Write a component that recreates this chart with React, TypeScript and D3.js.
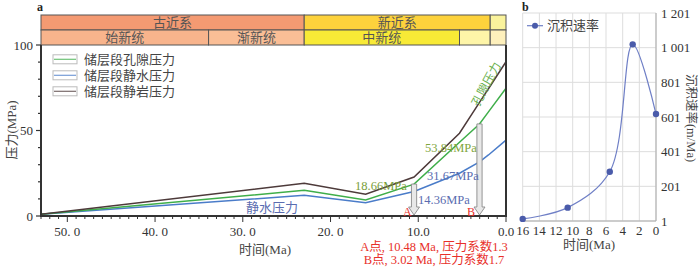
import React from "react";
import * as d3 from "d3";

// ---------- Panel a data ----------
const timesA = [53, 23, 16, 10.48, 5.3, 3.02, 2, 0];
const porePressure = [1, 15.0, 9.4, 18.66, 43.1, 53.84, 60.9, 74.7];
const hydroPressure = [1, 12.1, 7.8, 14.36, 25.0, 31.67, 35.7, 44.4];
const lithoPressure = [1, 19.1, 12.7, 22.8, 48.4, 66.4, 74.4, 90.2];
const legendA = ["储层段孔隙压力", "储层段静水压力", "储层段静岩压力"];
const xTicksA = [50, 40, 30, 20, 10, 0];
const xTickLabelsA = ["50. 0", "40. 0", "30. 0", "20. 0", "10.0", "0.0"];
const yTicksA = [0, 50, 100];
const periods = [
  { name: "古近系", start: 53, end: 23, color: "#F49A72" },
  { name: "新近系", start: 23, end: 1.8, color: "#FDD23C" },
  { name: "", start: 1.8, end: 0, color: "#FAF39C" },
];
const epochs = [
  { name: "始新统", start: 53, end: 33.9, color: "#F8B48C" },
  { name: "渐新统", start: 33.9, end: 23, color: "#FABE96" },
  { name: "中新统", start: 23, end: 5.3, color: "#F8EA36" },
  { name: "", start: 5.3, end: 1.8, color: "#FEF5A8" },
  { name: "", start: 1.8, end: 0, color: "#FEF0BC" },
];
const pointA = { t: 10.48, p: 18.66 };
const pointB = { t: 3.02, p: 53.84 };

// ---------- Panel b data ----------
const timesB = [16, 10.6, 5.55, 2.8, 0];
const sedRate = [13, 78, 285, 1020, 618];
const xTicksB = [16, 14, 12, 10, 8, 6, 4, 2, 0];
const yTicksB = [1, 201, 401, 601, 801, 1001, 1201];
const yTickLabelsB = ["1", "201", "401", "601", "801", "1 001", "1 201"];

const FONT = "'Liberation Serif', 'Noto Sans CJK SC', serif";

export default function App() {
  const x = d3.scaleLinear().domain([53, 0]).range([41, 506]);
  const y = d3.scaleLinear().domain([0, 100]).range([216, 45]);
  const lineA = (vals: number[]) =>
    d3
      .line<number>()
      .x((_, i) => x(timesA[i]))
      .y((d) => y(d))(vals) as string;

  const xb = d3.scaleLinear().domain([16, 0]).range([522.7, 656]);
  const yb = d3.scaleLinear().domain([1, 1201]).range([221, 13]);
  const lineB = d3
    .line<number>()
    .x((_, i) => xb(timesB[i]))
    .y((d) => yb(d))
    .curve(d3.curveCatmullRom.alpha(0.5))(sedRate) as string;

  const green = "#3FAE4A";
  const blue = "#4A7CC9";
  const brown = "#4D3A3A";
  const lineColors = [green, blue, brown];
  const axisCol = "#333";

  const arrow = (t: number, p: number) => {
    const cx = x(t);
    const top = y(p);
    const bot = 215;
    const hw = 2.6;
    const headW = 5.5;
    const headH = 8;
    const d = `M${cx - hw},${top} L${cx + hw},${top} L${cx + hw},${bot - headH} L${cx + headW},${bot - headH} L${cx},${bot} L${cx - headW},${bot - headH} L${cx - hw},${bot - headH} Z`;
    return <path d={d} fill="#E8E8E8" stroke="#8A8A8A" strokeWidth={0.9} />;
  };

  const minorX = d3.range(0, 54, 1);
  const minorY = d3.range(0, 101, 10);

  return (
    <svg
      width={700}
      height={274}
      style={{ position: "absolute", left: 0, top: 0, fontFamily: FONT }}
    >
      <rect width={700} height={274} fill="#fff" />
      {/* Panel labels */}
      <text x={37} y={11} fontSize={12} fontWeight="bold" fill="#222">a</text>
      <text x={522} y={11} fontSize={12} fontWeight="bold" fill="#222">b</text>

      {/* Header chronostratigraphy */}
      {periods.map((p, i) => (
        <g key={"p" + i}>
          <rect x={x(p.start)} y={15} width={x(p.end) - x(p.start)} height={15} fill={p.color} stroke="#555" strokeWidth={1} />
          {p.name && (
            <text x={(x(p.start) + x(p.end)) / 2} y={27} fontSize={13} textAnchor="middle" fill="#555">{p.name}</text>
          )}
        </g>
      ))}
      {epochs.map((p, i) => (
        <g key={"e" + i}>
          <rect x={x(p.start)} y={30} width={x(p.end) - x(p.start)} height={15} fill={p.color} stroke="#555" strokeWidth={1} />
          {p.name && (
            <text x={(x(p.start) + x(p.end)) / 2} y={42} fontSize={13} textAnchor="middle" fill="#555">{p.name}</text>
          )}
        </g>
      ))}

      {/* Lines panel a */}
      <path d={lineA(hydroPressure)} fill="none" stroke={blue} strokeWidth={1.5} />
      <path d={lineA(porePressure)} fill="none" stroke={green} strokeWidth={1.5} />
      <path d={lineA(lithoPressure)} fill="none" stroke={brown} strokeWidth={1.5} />

      {/* Arrows */}
      {arrow(pointA.t, pointA.p)}
      {arrow(pointB.t, pointB.p)}

      {/* Axes panel a */}
      <line x1={41} x2={41} y1={45} y2={216} stroke={axisCol} strokeWidth={2} />
      <line x1={506} x2={506} y1={45} y2={216} stroke={axisCol} strokeWidth={2} />
      <line x1={40} x2={507} y1={216} y2={216} stroke={axisCol} strokeWidth={2} />
      {minorY.map((v) => (
        <line key={"my" + v} x1={yTicksA.includes(v) ? 36 : 38} x2={41} y1={y(v)} y2={y(v)} stroke={axisCol} strokeWidth={1.2} />
      ))}
      {yTicksA.map((v) => (
        <text key={"yl" + v} x={33} y={y(v) + 4.5} fontSize={13} textAnchor="end" fill="#333">{v}</text>
      ))}
      {minorX.map((v) => (
        <line key={"mx" + v} x1={x(v)} x2={x(v)} y1={216} y2={xTicksA.includes(v) ? 222 : 219} stroke={axisCol} strokeWidth={1} />
      ))}
      {xTicksA.map((v, i) => (
        <text key={"xl" + v} x={x(v)} y={236} fontSize={13} textAnchor="middle" fill="#333">{xTickLabelsA[i]}</text>
      ))}
      <text x={265} y={254} fontSize={13} textAnchor="middle" fill="#444">时间(Ma)</text>
      <text transform="translate(16,130) rotate(-90)" fontSize={13} textAnchor="middle" fill="#444">压力(MPa)</text>

      {/* Legend panel a */}
      {legendA.map((s, i) => {
        const cy = 59.3 + i * 16;
        return (
          <g key={"lg" + i}>
            <rect x={53} y={cy - 4.5} width={24} height={9} fill="#fff" stroke="#BBB" strokeWidth={1} />
            <line x1={54} x2={76} y1={cy} y2={cy} stroke={lineColors[i]} strokeWidth={1.2} opacity={0.75} />
            <text x={84} y={cy + 4.5} fontSize={13} fill="#444">{s}</text>
          </g>
        );
      })}

      {/* Annotations panel a */}
      <text x={246} y={212} fontSize={13} fill="#5A6CB0">静水压力</text>
      <text x={355} y={190} fontSize={12.5} fill="#7A9E3A">{porePressure[3].toFixed(2)}MPa</text>
      <text x={425} y={152} fontSize={12.5} fill="#7FA640">{porePressure[5].toFixed(2)}MPa</text>
      <text x={427} y={180} fontSize={12.5} fill="#5A6CB0">{hydroPressure[5].toFixed(2)}MPa</text>
      <text x={418} y={203.5} fontSize={12.5} fill="#5A6CB0">{hydroPressure[3].toFixed(2)}MPa</text>
      <text transform="translate(490,86) rotate(-62)" fontSize={12} textAnchor="middle" fill="#6AB04C">孔隙压力</text>
      <text x={403} y={216} fontSize={12} fill="#E8302A">A</text>
      <text x={467} y={216} fontSize={12} fill="#E8302A">B</text>
      <text x={434} y={251} fontSize={12.5} textAnchor="middle" fill="#E8302A">A点, 10.48 Ma, 压力系数1.3</text>
      <text x={434} y={264} fontSize={12.5} textAnchor="middle" fill="#E8302A">B点, 3.02 Ma, 压力系数1.7</text>

      {/* Panel b grid */}
      {xTicksB.map((v) => (
        <line key={"gx" + v} x1={xb(v)} x2={xb(v)} y1={13} y2={221} stroke="#DDD" strokeWidth={1} />
      ))}
      {yTicksB.map((v) => (
        <line key={"gy" + v} x1={522.7} x2={656} y1={yb(v)} y2={yb(v)} stroke="#DDD" strokeWidth={1} />
      ))}
      <line x1={522.7} x2={656} y1={221} y2={221} stroke="#AAA" strokeWidth={1} />
      <line x1={656} x2={656} y1={13} y2={221} stroke="#AAA" strokeWidth={1} />
      <path d={lineB} fill="none" stroke="#6F7FC6" strokeWidth={1.2} />
      {sedRate.map((v, i) => (
        <circle key={"pt" + i} cx={xb(timesB[i])} cy={yb(v)} r={3.2} fill="#4A5BAA" />
      ))}
      {xTicksB.map((v) => (
        <text key={"xbl" + v} x={xb(v)} y={235} fontSize={13} textAnchor="middle" fill="#333">{v}</text>
      ))}
      {yTicksB.map((v, i) => (
        <text key={"ybl" + v} x={661} y={yb(v) + 4.5} fontSize={13} fill="#333">{yTickLabelsB[i]}</text>
      ))}
      <text x={589} y={249} fontSize={13} textAnchor="middle" fill="#444">时间(Ma)</text>
      <text transform="translate(686.5,118) rotate(90)" fontSize={12.5} textAnchor="middle" fill="#444">沉积速率(m/Ma)</text>
      {/* Legend b */}
      <line x1={527} x2={543} y1={25.7} y2={25.7} stroke="#6F7FC6" strokeWidth={1.2} />
      <circle cx={535} cy={25.7} r={3} fill="#4A5BAA" />
      <text x={547} y={30} fontSize={13} fill="#444">沉积速率</text>
    </svg>
  );
}
